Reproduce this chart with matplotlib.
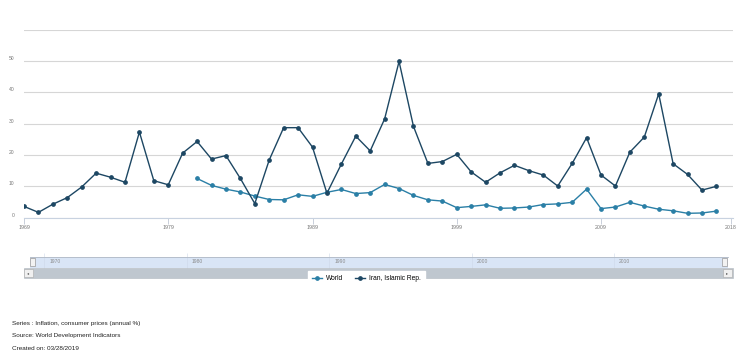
import matplotlib
matplotlib.use("Agg")
import matplotlib.pyplot as plt
import matplotlib.transforms as mtransforms
from matplotlib.patches import Rectangle

plt.rcParams.update({
    "font.family": ["Liberation Sans", "DejaVu Sans"],
    "font.size": 5,
})

# Data: inflation, consumer prices (annual %)
iran_years = list(range(1969, 2018))
iran_values = [
    3.6, 1.7, 4.3, 6.4, 9.8, 14.2, 12.9, 11.3, 27.3, 11.8,
    10.5, 20.6, 24.3, 18.7, 19.8, 12.5, 4.5, 18.4, 28.7, 28.7,
    22.5, 7.8, 17.1, 26.0, 21.3, 31.5, 49.8, 29.1, 17.3, 17.9,
    20.2, 14.6, 11.3, 14.3, 16.7, 15.0, 13.6, 10.1, 17.3, 25.5,
    13.6, 10.1, 20.9, 25.7, 39.5, 17.2, 13.8, 8.8, 10.0,
]
world_years = list(range(1981, 2018))
world_values = [
    12.5, 10.3, 9.1, 8.2, 6.9, 5.8, 5.7, 7.3, 6.8, 8.1,
    9.0, 7.7, 8.0, 10.6, 9.3, 7.1, 5.7, 5.3, 3.2, 3.6,
    4.1, 3.0, 3.1, 3.4, 4.2, 4.4, 4.9, 9.1, 2.9, 3.4,
    4.9, 3.7, 2.7, 2.2, 1.4, 1.5, 2.1,
]
x_ticks = [1969, 1979, 1989, 1999, 2009, 2018]
y_ticks = [0, 10, 20, 30, 40, 50]
nav_ticks = [1970, 1980, 1990, 2000, 2010]

footer = [
    "Series : Inflation, consumer prices (annual %)",
    "Source: World Development Indicators",
    "Created on: 03/28/2019",
]

iran_color = "#1d4763"
world_color = "#2a7fa6"
grid_color = "#d6d6d6"
label_color = "#777777"

W, H = 744, 355
fig = plt.figure(figsize=(W / 100, H / 100), dpi=100)

# Main chart
ax = fig.add_axes([24 / W, 1 - 217.7 / H, (733 - 24) / W, (217.7 - 29.5) / H])
ax.plot(world_years, world_values, color=world_color, linewidth=1.0,
        marker="o", markersize=2.4, label="World", zorder=3)
ax.plot(iran_years, iran_values, color=iran_color, linewidth=1.0,
        marker="o", markersize=2.4, label="Iran, Islamic Rep.", zorder=4)

ax.set_xlim(1969, 2018.15)
ax.set_ylim(0, 60)
ax.set_yticks([0, 10, 20, 30, 40, 50, 60])
ax.set_yticklabels([str(v) for v in y_ticks] + [""], fontsize=3.6, color=label_color)
for lab in ax.get_yticklabels():
    lab.set_verticalalignment("bottom")
ax.set_xticks(x_ticks)
ax.set_xticklabels([str(v) for v in x_ticks], fontsize=3.8, color=label_color)
ax.tick_params(axis="y", length=0, pad=7)
ax.tick_params(axis="x", length=4, width=0.6, color="#c0c8d4", pad=1.5)
ax.grid(axis="y", color=grid_color, linewidth=0.8)
ax.set_axisbelow(True)
for side in ["top", "right", "left"]:
    ax.spines[side].set_visible(False)
ax.spines["bottom"].set_color("#c8d2e0")
ax.spines["bottom"].set_linewidth(0.8)

# Navigator band
nav = fig.add_axes([30 / W, 1 - 268 / H, (728 - 30) / W, 11 / H])
nav.set_xlim(1969, 2018)
nav.set_ylim(0, 1)
nav.set_facecolor("#d9e5f6")
nav.set_xticks(nav_ticks)
nav.tick_params(axis="x", direction="in", length=11, width=0.4, color="#cdd8e8",
                labelbottom=False)
nav.tick_params(axis="y", left=False, labelleft=False)
for side in nav.spines.values():
    side.set_visible(False)
nav.spines["top"].set_visible(True)
nav.spines["top"].set_color("#b0b8c4")
nav.spines["top"].set_linewidth(0.6)

offset = mtransforms.ScaledTranslation(5 / 100, 0, fig.dpi_scale_trans)
for yr in nav_ticks:
    nav.text(yr, 0.55, str(yr), fontsize=3.6, color="#8a8a8a", ha="left",
             va="center", transform=nav.transData + offset)

# handles
for hx in [32, 724]:
    fig.patches.append(Rectangle((hx / W - 2.5 / W, 1 - 266 / H), 5 / W, 8 / H,
                                 transform=fig.transFigure, facecolor="#f2f2f2",
                                 edgecolor="#999999", linewidth=0.5, zorder=5))

# scrollbar
fig.patches.append(Rectangle((24 / W, 1 - 278 / H), (733 - 24) / W, 10 / H,
                             transform=fig.transFigure, facecolor="#bfc7cf",
                             edgecolor="#b0b8c0", linewidth=0.4, zorder=1))
for bx in [24, 723]:
    fig.patches.append(Rectangle((bx / W, 1 - 277 / H), 9 / W, 8 / H,
                                 transform=fig.transFigure, facecolor="#f0f0f0",
                                 edgecolor="#aaaaaa", linewidth=0.4, zorder=2))
fig.text(28.5 / W, 1 - 273 / H, "\u25c2", fontsize=3, ha="center", va="center",
         color="#555555", family="DejaVu Sans")
fig.text(727.5 / W, 1 - 273 / H, "\u25b8", fontsize=3, ha="center", va="center",
         color="#555555", family="DejaVu Sans")

# Legend
leg = fig.legend(loc="center", bbox_to_anchor=(366 / W, 1 - 278.5 / H), ncol=2,
                 fontsize=4.8, frameon=True, fancybox=False, handlelength=1.6,
                 handletextpad=0.5, columnspacing=1.8, borderpad=0.6)
leg.get_frame().set_facecolor("white")
leg.get_frame().set_edgecolor("white")
leg.get_frame().set_alpha(1)
leg.set_zorder(10)

# Footer
for i, line in enumerate(footer):
    fig.text(12 / W, 1 - (324 + 12 * i) / H, line, fontsize=4.6, color="#222222",
             ha="left", va="center")

fig.savefig("out.png", dpi=100, facecolor="white")
